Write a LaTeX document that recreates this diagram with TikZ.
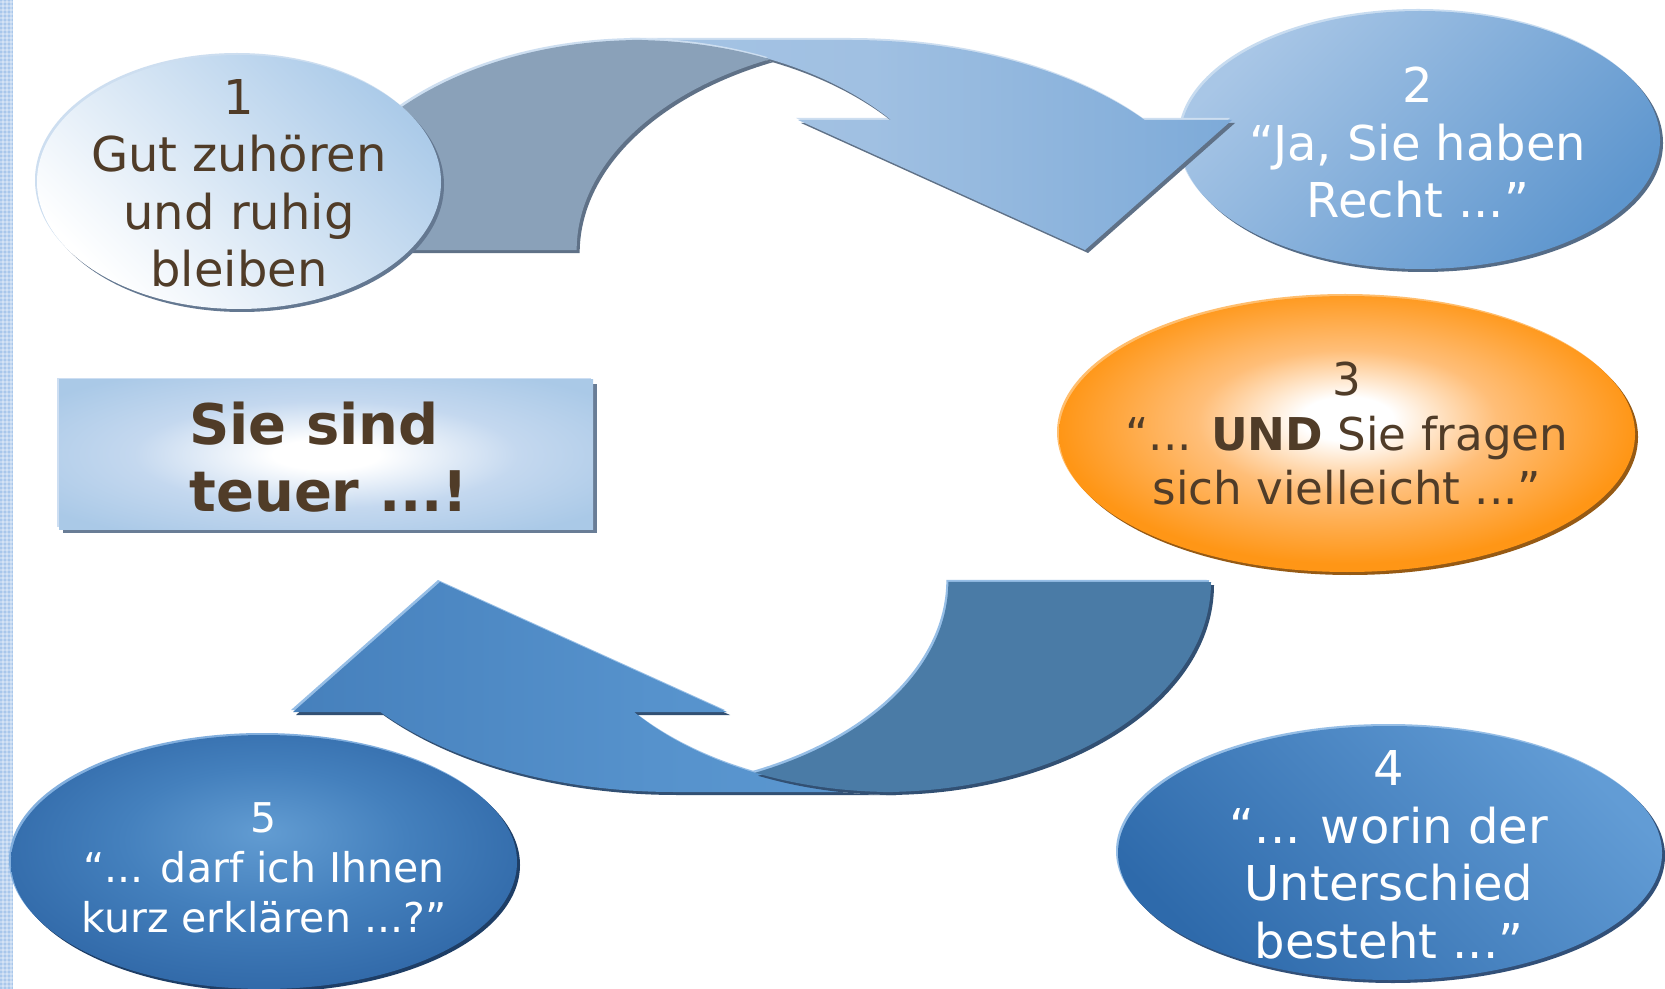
\documentclass[tikz,border=0pt]{standalone}
\usepackage{fontspec}
\setmainfont{DejaVu Sans}
\usetikzlibrary{shapes.geometric}
\definecolor{stripe}{RGB}{168,199,235}
\definecolor{txtbrown}{RGB}{80,60,40}
\definecolor{eonea}{RGB}{172,203,233}
\definecolor{eonehi}{RGB}{205,222,240}
\definecolor{eonesh}{RGB}{100,120,145}
\definecolor{etwoa}{RGB}{168,198,230}
\definecolor{etwob}{RGB}{94,150,206}
\definecolor{etwohi}{RGB}{200,220,240}
\definecolor{etwosh}{RGB}{85,108,135}
\definecolor{orMain}{RGB}{255,150,22}
\definecolor{orLight}{RGB}{255,190,120}
\definecolor{ethreehi}{RGB}{255,190,110}
\definecolor{ethreesh}{RGB}{150,90,20}
\definecolor{efoura}{RGB}{98,156,213}
\definecolor{efourb}{RGB}{46,106,171}
\definecolor{efourhi}{RGB}{150,190,230}
\definecolor{efoursh}{RGB}{50,80,120}
\definecolor{efivec}{RGB}{98,156,210}
\definecolor{efivem}{RGB}{68,128,189}
\definecolor{efiveo}{RGB}{44,99,163}
\definecolor{efivehi}{RGB}{130,175,222}
\definecolor{efivesh}{RGB}{30,62,102}
\definecolor{rM}{RGB}{196,216,239}
\definecolor{rO}{RGB}{170,201,231}
\definecolor{rhi}{RGB}{205,222,242}
\definecolor{rsh}{RGB}{105,125,150}
\definecolor{taDark}{RGB}{138,161,185}
\definecolor{taLone}{RGB}{170,199,230}
\definecolor{taLmid}{RGB}{160,192,226}
\definecolor{taLtwo}{RGB}{96,152,208}
\definecolor{tahi}{RGB}{205,222,240}
\definecolor{tash}{RGB}{95,113,135}
\definecolor{baDark}{RGB}{74,123,166}
\definecolor{baLone}{RGB}{56,113,175}
\definecolor{baLmid}{RGB}{86,146,204}
\definecolor{baLtwo}{RGB}{98,160,215}
\definecolor{bahi}{RGB}{150,190,230}
\definecolor{bash}{RGB}{50,80,115}
\pgfdeclareradialshading{shThree}{\pgfpoint{0bp}{3bp}}{color(0bp)=(white); color(4bp)=(white); color(13bp)=(orLight); color(25bp)=(orMain); color(50bp)=(orMain)}
\pgfdeclareradialshading{shFive}{\pgfpoint{0bp}{6bp}}{color(0bp)=(efivec); color(14bp)=(efivem); color(32bp)=(efiveo); color(50bp)=(efiveo)}
\pgfdeclareradialshading{shRect}{\pgfpoint{0bp}{0bp}}{color(0bp)=(white); color(5bp)=(white); color(18bp)=(rM); color(32bp)=(rO); color(50bp)=(rO)}
\pgfdeclarehorizontalshading{shTA}{100bp}{color(0bp)=(taLone); color(45bp)=(taLmid); color(100bp)=(taLtwo)}
\pgfdeclarehorizontalshading{shBA}{100bp}{color(0bp)=(baLone); color(55bp)=(baLmid); color(100bp)=(baLtwo)}
\newcommand\TADark{(314,250) arc[start angle=180, end angle=90, x radius=164pt, y radius=105pt] -- (632,40) arc[start angle=90, end angle=65.3, x radius=165pt, y radius=105pt] arc[start angle=114.6, end angle=180, x radius=165.5pt, y radius=105pt] -- cycle}
\newcommand\TALight{(632,40) -- (851,40) arc[start angle=90, end angle=38.25, x radius=187pt, y radius=105pt] -- (1232,120) -- (1085,250) -- (798,120) -- (891,120) arc[start angle=38.25, end angle=90, x radius=165pt, y radius=105pt] -- cycle}
\newcommand\BADark{(1211,582) arc[start angle=0, end angle=-90, x radius=164pt, y radius=105pt] -- (893,792) arc[start angle=-90, end angle=-114.7, x radius=165pt, y radius=105pt] arc[start angle=-65.4, end angle=0, x radius=165.5pt, y radius=105pt] -- cycle}
\newcommand\BALight{(893,792) -- (674,792) arc[start angle=-90, end angle=-141.75, x radius=187pt, y radius=105pt] -- (293,712) -- (440,582) -- (727,712) -- (634,712) arc[start angle=-141.75, end angle=-90, x radius=165pt, y radius=105pt] -- cycle}
\tikzset{
  hishift/.style={shift={(-2,-2)}},
  shshift/.style={shift={(3,3)}},
  ttext/.style={align=center, inner sep=0pt, font=\fontsize{24}{28.75}\selectfont},
}
\begin{document}
\begin{tikzpicture}[x=0.5pt, y=-0.5pt]
\useasboundingbox (0,0) rectangle (1665,989);
\fill[white] (0,0) rectangle (1665,989);
\clip (0,0) rectangle (1665,989);
% left stripe
\fill[stripe] (0,0) rectangle (13,989);
\foreach \yy in {2,6,...,988} \draw[white, opacity=.3, line width=0.6pt] (0,\yy) -- (13,\yy);
\foreach \xx in {3,7,11} \draw[white, opacity=.3, line width=0.6pt] (\xx,0) -- (\xx,989);
% ellipse 2
\fill[etwohi, hishift] (1420,140) ellipse [x radius=120pt, y radius=64.5pt];
\fill[etwosh, shshift] (1420,140) ellipse [x radius=120pt, y radius=64.5pt];
\shade[top color=etwoa, bottom color=etwob, shading angle=45] (1420,140) ellipse [x radius=120pt, y radius=64.5pt];
% ellipse 3
\fill[ethreehi, hishift] (1347,434) ellipse [x radius=144pt, y radius=69pt];
\fill[ethreesh, shshift] (1347,434) ellipse [x radius=144pt, y radius=69pt];
\shade[shading=shThree] (1347,434) ellipse [x radius=144pt, y radius=69pt];
% ellipse 4
\fill[efourhi, hishift] (1390,853) ellipse [x radius=136pt, y radius=63.5pt];
\fill[efoursh, shshift] (1390,853) ellipse [x radius=136pt, y radius=63.5pt];
\shade[top color=efoura, bottom color=efourb, shading angle=-45] (1390,853) ellipse [x radius=136pt, y radius=63.5pt];
% ellipse 5
\fill[efivehi, hishift] (264,862) ellipse [x radius=126.5pt, y radius=63.5pt];
\fill[efivesh, shshift] (264,862) ellipse [x radius=126.5pt, y radius=63.5pt];
\shade[shading=shFive] (264,862) ellipse [x radius=126.5pt, y radius=63.5pt];
% top arrow
\fill[tahi, hishift] \TALight;
\fill[tash, shshift] \TALight;
\shade[shading=shTA] \TALight;
\fill[tahi, hishift] \TADark;
\fill[tash, shshift] \TADark;
\fill[taDark] \TADark;
% bottom arrow
\fill[bahi, hishift] \BALight;
\fill[bash, shshift] \BALight;
\shade[shading=shBA] \BALight;
\fill[bahi, hishift] \BADark;
\fill[bash, shshift] \BADark;
\fill[baDark] \BADark;
% ellipse 1
\fill[eonehi, hishift] (239,182) ellipse [x radius=101pt, y radius=63.5pt];
\fill[eonesh, shshift] (239,182) ellipse [x radius=101pt, y radius=63.5pt];
\shade[top color=eonea, bottom color=white, shading angle=-45] (239,182) ellipse [x radius=101pt, y radius=63.5pt];
% rectangle
\fill[rhi, hishift] (59,380) rectangle (593,529);
\fill[rsh, shift={(4,4)}] (59,380) rectangle (593,529);
\shade[shading=shRect] (59,380) rectangle (593,529);
% texts
\node[ttext, text=txtbrown] (t1) at (239,183.5) {1\\Gut zuhören\\und ruhig\\bleiben};
\node[ttext, text=white] (t2) at (1418,143) {2\\“Ja, Sie haben\\Recht ...”};
\node[ttext, text=txtbrown, font=\fontsize{22.6}{27.25}\selectfont] (t3) at (1347,434) {3\\“... \textbf{UND} Sie fragen\\sich vielleicht ...”};
\node[ttext, text=white] (t4) at (1389,855) {4\\“... worin der\\Unterschied\\besteht ...”};
\node[ttext, text=white, font=\fontsize{20.5}{25}\selectfont] (t5) at (264,868) {5\\“... darf ich Ihnen\\kurz erklären ...?”};
\node[align=left, inner sep=0pt, anchor=west, text=txtbrown, font=\fontsize{28}{33.5}\selectfont\bfseries] (tr) at (189,457) {Sie sind\\teuer ...!};
\end{tikzpicture}
\end{document}
